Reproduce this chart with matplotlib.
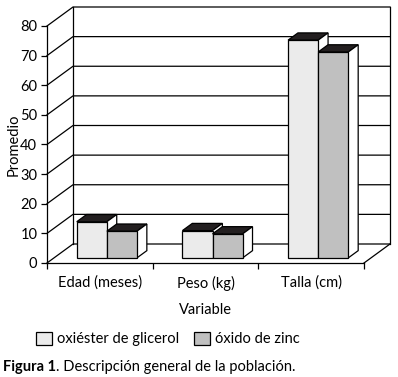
import numpy as np
import matplotlib.pyplot as plt
from matplotlib.patches import Polygon, Patch

plt.rcParams['font.family'] = ['Lato', 'DejaVu Sans']

# datos
categorias = ['Edad (meses)', 'Peso (kg)', 'Talla (cm)']
series = ['oxiéster de glicerol', 'óxido de zinc']
glicerol = [12.2, 9.2, 73.5]
zinc = [9.0, 8.1, 69.5]
yticks = [0, 10, 20, 30, 40, 50, 60, 70, 80]

colores = ['#ebebeb', '#c0c0c0']
tapa = '#231f20'

W, H = 398, 377
fig = plt.figure(figsize=(W / 100, H / 100), dpi=100)
# ejes frontales en pixeles: x 47..364, y 26..263
ax = fig.add_axes([47 / W, (H - 263) / H, 317 / W, 237 / H])
ax.set_xlim(0, 3)
ax.set_ylim(0, 80)

# profundidad del "3D"
DX = 26 / (317 / 3)
DY = 19 / (237 / 80)
f0, df = 0.27, 0.38
lw = 0.9

# pared del fondo y rejilla
for v in yticks:
    ax.plot([0, DX, 3 + DX], [v, v + DY, v + DY], color='k', lw=lw,
            clip_on=False, zorder=1)
ax.plot([DX, DX], [DY, 80 + DY], color='k', lw=lw, clip_on=False, zorder=1)
ax.plot([3 + DX, 3 + DX], [DY, 80 + DY], color='k', lw=lw, clip_on=False, zorder=1)
ax.plot([3, 3 + DX], [0, DY], color='k', lw=lw, clip_on=False, zorder=1)

# barras
bw = 0.285
ox, oy = f0 * DX, f0 * DY
ddx, ddy = df * DX, df * DY
z = 3
for j in range(len(categorias)):
    for i, vals in enumerate([glicerol, zinc]):
        v = vals[j]
        x0 = j + 0.5 - bw + i * bw + ox
        ax.bar(x0, v, bottom=oy, width=bw, align='edge', color=colores[i],
               edgecolor='k', linewidth=lw, zorder=z + 2)
        x1 = x0 + bw
        top = oy + v
        ax.add_patch(Polygon([(x0, top), (x1, top), (x1 + ddx, top + ddy),
                              (x0 + ddx, top + ddy)], closed=True,
                             facecolor=tapa, edgecolor='k', lw=lw,
                             zorder=z, clip_on=False))
        ax.add_patch(Polygon([(x1, oy), (x1, top), (x1 + ddx, top + ddy),
                              (x1 + ddx, oy + ddy)], closed=True,
                             facecolor='white', edgecolor='k', lw=lw,
                             zorder=z + 1, clip_on=False))
        z += 3

# ejes
ax.spines['top'].set_visible(False)
ax.spines['right'].set_visible(False)
ax.spines['left'].set_linewidth(lw)
ax.spines['bottom'].set_linewidth(lw)
ax.set_yticks(yticks)
ax.tick_params(axis='y', direction='out', length=4, width=lw, pad=3,
               labelsize=10.5)
ax.set_xticks([0, 1, 2, 3])
ax.set_xticklabels([])
ax.set_xticks([0.5, 1.5, 2.5], minor=True)
ax.set_xticklabels(categorias, minor=True)
ax.tick_params(axis='x', which='major', direction='out', length=4, width=lw)
ax.tick_params(axis='x', which='minor', length=0, pad=9, labelsize=10.5)

ax.set_ylabel('Promedio', fontsize=10.5, labelpad=0)
ax.set_xlabel('Variable', fontsize=10.5, labelpad=9)

handles = [Patch(facecolor=c, edgecolor='k', linewidth=lw) for c in colores]
fig.legend(handles, series, loc='center', bbox_to_anchor=(168 / W, 1 - 339 / H),
           ncol=2, frameon=False, fontsize=10.5, handlelength=1.1,
           handleheight=1.0, handletextpad=0.35, columnspacing=1.0)

# pie de figura
fig.canvas.draw()
r = fig.canvas.get_renderer()
t1 = fig.text(3 / W, 1 - 367 / H, 'Figura 1', fontsize=10.5, fontweight='bold',
              va='center', ha='left')
bb = t1.get_window_extent(renderer=r)
fig.text(bb.x1 / W, 1 - 367 / H, '. Descripción general de la población.',
         fontsize=10.5, va='center', ha='left')

fig.savefig('out.png', dpi=100)
